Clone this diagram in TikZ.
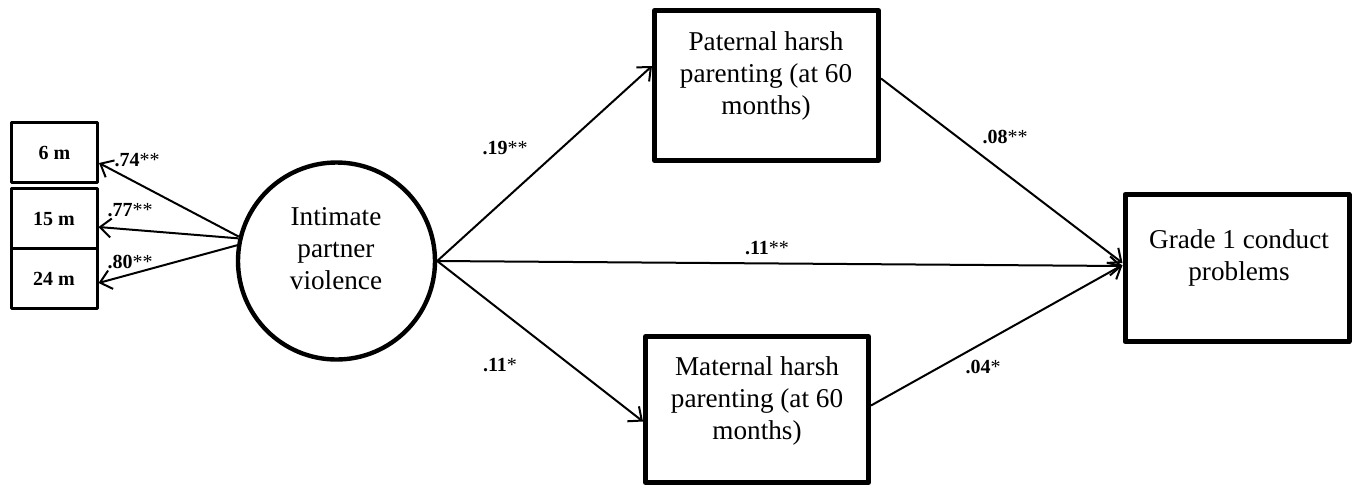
\documentclass[tikz,border=0pt]{standalone}
\usepackage{fontspec}
\setmainfont{Liberation Serif}
\usetikzlibrary{arrows.meta}
\begin{document}
\begin{tikzpicture}[x=0.5pt, y=-0.5pt, line join=round, >={Straight Barb[length=5.5pt,width=9.5pt]},
    bigbox/.style={draw, line width=2.5pt, minimum width=112pt, minimum height=75pt},
    smallbox/.style={draw, line width=1.5pt, minimum width=43pt, minimum height=30pt, font=\bfseries\fontsize{10}{12}\selectfont},
    txt/.style={align=center, font=\fontsize{13.6}{16}\selectfont},
    coef/.style={font=\fontsize{10}{12}\selectfont, inner sep=0pt},
    arr/.style={->, line width=1pt}]
    \useasboundingbox (0,0) rectangle (1360,489);
    % indicators of the latent factor
    \node[smallbox] (m6) at (54.5,152.5) {6 m};
    \node[smallbox] (m15) at (54,218.5) {15 m};
    \node[smallbox] (m24) at (54,278.5) {24 m};
    \node[circle, draw, line width=2.2pt, minimum size=98.5pt] (ipv) at (336.5,261) {};
    \node[txt] (ipvtxt) at (336,248.5) {Intimate\\partner\\violence};
    % mediators and outcome
    \node[bigbox] (pat) at (766.5,85.5) {};
    \node[txt] (pattxt) at (766,76) {Paternal harsh\\parenting (at 60\\months)};
    \node[bigbox, minimum width=111.5pt, minimum height=73pt] (mat) at (757,409.5) {};
    \node[txt] (mattxt) at (757,401) {Maternal harsh\\parenting (at 60\\months)};
    \node[bigbox, minimum height=73.5pt] (grade) at (1237,268) {};
    \node[txt] (gradetxt) at (1239,257.5) {Grade 1 conduct\\problems};
    % loadings
    \draw[arr] (ipv.166) -- ([yshift=-5.25pt]m6.east);
    \draw[arr] (ipv.167) -- ([yshift=-4.25pt]m15.east);
    \draw[arr] (ipv.171) -- ([yshift=-2.25pt]m24.east);
    \node[coef] (c74) at (137,160) {\textbf{.74}**};
    \node[coef] (c77) at (130,210) {\textbf{.77}**};
    \node[coef] (c80) at (130,262) {\textbf{.80}**};
    % paths
    \draw[arr] (ipv.east) -- ([yshift=9.75pt]pat.west);
    \draw[arr] (ipv.east) -- ([yshift=-6pt]mat.west);
    \draw[arr] (ipv.east) -- ([yshift=1pt]grade.west);
    \draw[arr] ([yshift=3.5pt]pat.east) -- ([yshift=2.5pt]grade.west);
    \draw[arr] ([yshift=2pt]mat.east) -- ([yshift=1.5pt]grade.west);
    \node[coef] (c19) at (505,148) {\textbf{.19}**};
    \node[coef] (c11a) at (767,248) {\textbf{.11}**};
    \node[coef] (c11b) at (500,365) {\textbf{.11}*};
    \node[coef] (c08) at (1005,137) {\textbf{.08}**};
    \node[coef] (c04) at (983,367) {\textbf{.04}*};
\end{tikzpicture}
\end{document}
